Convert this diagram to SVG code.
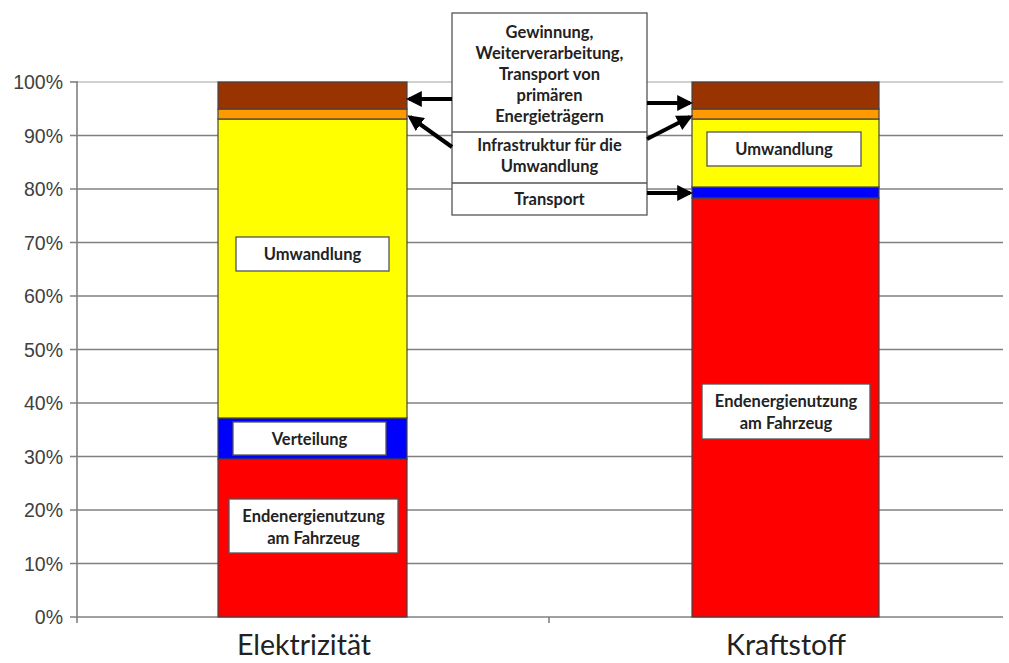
<svg xmlns="http://www.w3.org/2000/svg" width="1009" height="663" viewBox="0 0 1009 663">
<defs>
<marker id="ah" viewBox="0 0 10 10" refX="8" refY="5" markerWidth="4" markerHeight="4" orient="auto" markerUnits="strokeWidth">
<path d="M0,0 L10,5 L0,10 z" fill="#000"/>
</marker>
<style>
.grid{stroke:#808080;stroke-width:1.6}
.ax{font-family:"Liberation Sans",Arial,sans-serif;font-size:19.5px;fill:#404040;text-anchor:end}
.seg{stroke:#444;stroke-width:1.2}
.lbl{fill:#fff;stroke:#555;stroke-width:1.3}
.t{font-family:Lato,"Open Sans",sans-serif;font-weight:bold;font-size:16.5px;fill:#222;text-anchor:middle}
.cat{font-family:Lato,"Open Sans",sans-serif;font-size:28.5px;fill:#222;text-anchor:middle}
.arr{stroke:#000;stroke-width:4;fill:none;marker-end:url(#ah)}
</style>
</defs>
<rect width="1009" height="663" fill="#fff"/>
<g id="axis">
<g class="grid">
<line x1="77" y1="82" x2="1003" y2="82" stroke="#c0c0c0"/>
<line x1="70" y1="135.5" x2="1003" y2="135.5"/>
<line x1="70" y1="189" x2="1003" y2="189"/>
<line x1="70" y1="242.5" x2="1003" y2="242.5"/>
<line x1="70" y1="296" x2="1003" y2="296"/>
<line x1="70" y1="349.5" x2="1003" y2="349.5"/>
<line x1="70" y1="403" x2="1003" y2="403"/>
<line x1="70" y1="456.5" x2="1003" y2="456.5"/>
<line x1="70" y1="510" x2="1003" y2="510"/>
<line x1="70" y1="563.5" x2="1003" y2="563.5"/>
<line x1="70" y1="617" x2="1003" y2="617"/>
<line x1="70" y1="82" x2="77" y2="82"/>
<line x1="77" y1="81" x2="77" y2="623"/>
<line x1="549" y1="617" x2="549" y2="623"/>
</g>
<g class="ax">
<text x="63" y="89">100%</text>
<text x="63" y="142.5">90%</text>
<text x="63" y="196">80%</text>
<text x="63" y="249.5">70%</text>
<text x="63" y="303">60%</text>
<text x="63" y="356.5">50%</text>
<text x="63" y="410">40%</text>
<text x="63" y="463.5">30%</text>
<text x="63" y="517">20%</text>
<text x="63" y="570.5">10%</text>
<text x="63" y="624">0%</text>
</g>
<text class="cat" x="304" y="655">Elektrizität</text>
<text class="cat" x="786" y="655">Kraftstoff</text>
</g>
<g id="bar-elektrizitaet">
<rect class="seg" x="218" y="459" width="189" height="158" fill="#ff0000"/>
<rect class="seg" x="218" y="418" width="189" height="41" fill="#0000ff"/>
<rect class="seg" x="218" y="119" width="189" height="299" fill="#ffff00"/>
<rect class="seg" x="218" y="109" width="189" height="10" fill="#ff9900"/>
<rect class="seg" x="218" y="82" width="189" height="27" fill="#993300"/>
</g>
<g id="bar-kraftstoff">
<rect class="seg" x="692" y="198" width="187" height="419" fill="#ff0000"/>
<rect class="seg" x="692" y="187" width="187" height="11" fill="#0000ff"/>
<rect class="seg" x="692" y="119" width="187" height="68" fill="#ffff00"/>
<rect class="seg" x="692" y="109" width="187" height="10" fill="#ff9900"/>
<rect class="seg" x="692" y="82" width="187" height="27" fill="#993300"/>
</g>
<g id="label-umwandlung-e">
<rect class="lbl" x="236" y="237" width="153" height="34"/>
<text class="t" x="312.5" y="260">Umwandlung</text>
</g>
<g id="label-verteilung">
<rect class="lbl" x="233" y="422" width="153" height="33"/>
<text class="t" x="309.5" y="444.5">Verteilung</text>
</g>
<g id="label-endenergie-e">
<rect class="lbl" x="229" y="499" width="169" height="54"/>
<text class="t" x="313.5" y="522">Endenergienutzung</text>
<text class="t" x="313.5" y="544">am Fahrzeug</text>
</g>
<g id="label-umwandlung-k">
<rect class="lbl" x="707" y="132" width="154" height="34"/>
<text class="t" x="784" y="155">Umwandlung</text>
</g>
<g id="label-endenergie-k">
<rect class="lbl" x="702" y="384" width="168" height="55"/>
<text class="t" x="786" y="407">Endenergienutzung</text>
<text class="t" x="786" y="429">am Fahrzeug</text>
</g>
<g id="legend-box">
<rect class="lbl" x="452" y="13" width="195" height="202"/>
<line x1="452" y1="132" x2="647" y2="132" stroke="#555" stroke-width="1.3"/>
<line x1="452" y1="183" x2="647" y2="183" stroke="#555" stroke-width="1.3"/>
<text class="t" x="549.5" y="38">Gewinnung,</text>
<text class="t" x="549.5" y="59">Weiterverarbeitung,</text>
<text class="t" x="549.5" y="80">Transport von</text>
<text class="t" x="549.5" y="101">primären</text>
<text class="t" x="549.5" y="122">Energieträgern</text>
<text class="t" x="549.5" y="151">Infrastruktur für die</text>
<text class="t" x="549.5" y="172">Umwandlung</text>
<text class="t" x="549.5" y="205">Transport</text>
</g>
<g id="connectors">
<line class="arr" x1="452" y1="99" x2="409" y2="99"/>
<line class="arr" x1="452" y1="147" x2="410" y2="117"/>
<line class="arr" x1="647" y1="103" x2="690" y2="103"/>
<line class="arr" x1="647" y1="139" x2="690" y2="117"/>
<line class="arr" x1="647" y1="193" x2="690" y2="193"/>
</g>
</svg>
